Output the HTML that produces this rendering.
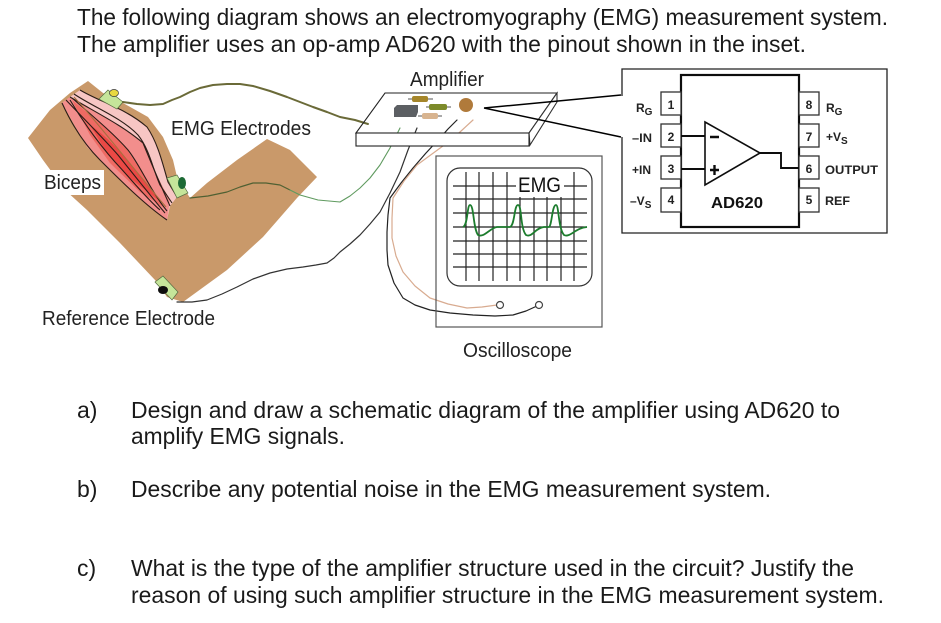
<!DOCTYPE html>
<html><head><meta charset="utf-8"><style>
html,body{margin:0;padding:0;background:#fff;width:941px;height:623px;overflow:hidden}
svg{display:block}
text{font-family:"Liberation Sans",sans-serif;fill:#111}
.q{font-size:23px;fill:#1a1a1a}
.l{font-size:20px;fill:#222}
.b{font-size:12px;font-weight:bold;fill:#222}
.n{font-size:12px;font-weight:bold;fill:#222;text-anchor:middle}
</style></head><body>
<svg width="941" height="623" viewBox="0 0 941 623" xmlns="http://www.w3.org/2000/svg">
<defs><filter id="bl" x="0" y="0" width="941" height="623" filterUnits="userSpaceOnUse"><feGaussianBlur stdDeviation="0.3"/></filter></defs>
<text class="q" x="77" y="25" textLength="811" lengthAdjust="spacingAndGlyphs">The following diagram shows an electromyography (EMG) measurement system.</text>
<text class="q" x="77" y="52" textLength="729" lengthAdjust="spacingAndGlyphs">The amplifier uses an op-amp AD620 with the pinout shown in the inset.</text>

<g filter="url(#bl)">
<!-- arm -->
<path d="M88,81 L103,93 L123,103 L148,117 L163,137 L173,160 L177,177 L190,198 L207,183 L237,160 L267,139 L290,150 L317,177 L297,198 L263,237 L227,270 L183,302 L167,297 L155,280 L120,243 L87,210 L65,190 L43,160 L28,138 L50,110 L70,93 Z" fill="#c9996b"/>
<!-- muscle -->
<path d="M80,90 C100,102 125,108 147,127 C158,143 163,165 168,182 L177,197 L170,206 L167,220 L145,203 L120,180 L100,160 L87,147 L62,103 L70,97 Z" fill="#f7c6c4"/>
<path d="M70,97 C95,112 122,125 143,143 C150,160 156,175 170,200 L167,220 L145,203 L120,180 L100,160 L87,147 L62,103 Z" fill="#f28e8c"/>
<path d="M72,100 C90,115 110,130 125,147 C138,165 150,185 163,207 L140,192 L110,163 L90,135 Z" fill="#ee6a64"/>
<path d="M90,125 C105,135 125,155 135,170 C145,180 152,190 158,200 L130,178 L108,155 Z" fill="#ea4a45"/>
<g fill="none" stroke="#2b1c16" stroke-width="1.100">
<path d="M80,90 C100,102 125,108 147,127 C158,143 163,165 168,182 L177,197"/>
<path d="M74,94 C95,108 122,118 138,135 C150,150 153,170 160,185 L172,203"/>
<path d="M70,97 C95,112 122,125 143,143 C150,160 156,175 170,206"/>
<path d="M72,98 C95,118 115,135 128,150 C140,165 150,190 167,211"/>
<path d="M66,100 C85,120 105,140 118,155 C130,170 150,195 165,213"/>
<path d="M62,103 C72,125 85,145 100,160 C120,180 145,205 167,220"/>
<path d="M70,100 C85,125 100,145 115,162 C130,178 148,200 160,210"/>
<path d="M74,97 C100,125 130,165 166,207" stroke="#a8703f"/>
</g>
<!-- electrodes -->
<path d="M108,90 L123,102 L117,109 L99,99 Z" fill="#c5e59a" stroke="#556b40" stroke-width=".7"/>
<ellipse cx="114" cy="93" rx="4.500" ry="3.500" fill="#e8d840" stroke="#333" stroke-width=".7"/>
<path d="M167,178 L177,175 L188,193 L177,198 Z" fill="#c5e59a" stroke="#556b40" stroke-width=".7"/>
<ellipse cx="182" cy="183" rx="4" ry="6" fill="#1f6b35"/>
<path d="M163,276 L178,292 L172,300 L155,282 Z" fill="#c5e59a" stroke="#556b40" stroke-width=".7"/>
<ellipse cx="163" cy="290" rx="5" ry="4" fill="#111"/>

<!-- wires -->
<g fill="none" stroke-linejoin="round" stroke-linecap="round">
<polyline points="123,102 137,104 150,105 163,104 172,100 180,97 190,92 200,88 213,85 227,84 240,84 253,86 270,91 287,97 300,102 313,107 327,112 340,117 355,120 368,124" stroke="#6b6a38" stroke-width="2"/>
<polyline points="190,198 208,196 227,192 240,187 253,183 266,183 280,185 290,190" stroke="#4f6032" stroke-width="1.200"/>
<polyline points="290,190 300,195 318,200 340,202 350,196 360,188 370,178 380,165 390,148 400,128" stroke="#5f9a5f" stroke-width="1.100"/>
<polyline points="177,302 192,302 207,300 222,294 237,287 253,279 270,273 287,269 303,267 316,265 327,263 334,258 340,252 350,244 360,235 370,224 380,212 390,193 400,172 408,150 417,128" stroke="#333" stroke-width="1.200"/>
<polyline points="457,120 448,129 440,138 426,153 413,168 401,183 390,198 388,215 387,232 387,250 388,265 394,283 403,298 415,305 430,310 450,313 473,315 495,316 513,315 526,311 537,306" stroke="#222" stroke-width="1.200"/>
<polyline points="473,120 460,132 447,143 432,154 417,165 404,181 393,198 392,218 392,238 396,256 403,272 415,286 430,298 448,304 467,308 482,307 497,305" stroke="#d8ab90" stroke-width="1.200"/>
</g>

<!-- board -->
<path d="M385,93 L557,93 L529,133 L356,133 Z" fill="none" stroke="#222" stroke-width="1.100"/>
<path d="M557,93 L557,102 L530,145 L529,133 Z" fill="#fff" stroke="#333" stroke-width="1.100"/>
<rect x="356" y="133" width="173" height="13" fill="#fff" stroke="#222" stroke-width="1.100"/>
<path d="M394,108 L397,105 L418,105 L418,112 L416,117 L394,117 Z" fill="#5c5f63"/>
<path d="M408,99 H433 M426,107 H451 M418,116 H442" stroke="#555" stroke-width="1"/>
<rect x="412" y="96" width="16" height="6" rx="2" fill="#a5862c"/>
<rect x="429" y="104" width="18" height="6" rx="2" fill="#7c8a2c"/>
<rect x="422" y="113" width="16" height="6" rx="2" fill="#d8b490"/>
<circle cx="466" cy="105" r="7" fill="#b07a3a"/>
<path d="M484,108 L621,95 M484,108 L621,137" stroke="#000" stroke-width="1.500" fill="none"/>

<!-- scope -->
<rect x="436" y="156" width="166" height="171" fill="none" stroke="#555" stroke-width="1.200"/>
<rect x="447" y="168" width="145" height="118" rx="13" fill="#fff" stroke="#333" stroke-width="1.200"/>
<g stroke="#222" stroke-width="1.200">
<path d="M466,172V281M479,172V281M493,172V281M507,172V281M520,172V281M534,172V281M547,172V281M561,172V281M574,172V281"/>
<path d="M453,186H587M453,199H587M453,213H587M453,227H587M453,241H587M453,254H587M453,267H587"/>
</g>
<rect x="516" y="170" width="48" height="27" fill="#fff"/>
<path d="M463,227 C468,225 467,205 470,205 C474,205 473,228 478,235 C484,238 490,228 497,227 H510 C515,225 514,205 518,205 C522,205 520,228 526,235 C532,238 535,228 544,227 H549 C552,225 552,205 556,205 C559,205 558,228 564,235 C570,238 575,228 587,227" fill="none" stroke="#1f7d2e" stroke-width="1.800"/>
<circle cx="500" cy="305" r="3.500" fill="#fff" stroke="#444" stroke-width="1.200"/>
<circle cx="539" cy="305" r="3.500" fill="#fff" stroke="#444" stroke-width="1.200"/>

<!-- inset -->
<path d="M622,96 V69 H887 V233 H622 V137" fill="none" stroke="#222" stroke-width="1.300"/>
<rect x="681" y="75" width="118" height="152" fill="#fff" stroke="#111" stroke-width="2.200"/>
<g fill="#fff" stroke="#333" stroke-width="1.300">
<rect x="661" y="92" width="20" height="23"/><rect x="661" y="124" width="20" height="23"/><rect x="661" y="156" width="20" height="23"/><rect x="661" y="188" width="20" height="24"/>
<rect x="799" y="92" width="20" height="23"/><rect x="799" y="124" width="20" height="23"/><rect x="799" y="156" width="20" height="23"/><rect x="799" y="188" width="20" height="24"/>
</g>
<path d="M705,122 L760,153 L705,185 Z" fill="#fff" stroke="#111" stroke-width="1.600"/>
<path d="M681,136 H705 M681,169 H705 M760,153 H781 V168 H799" fill="none" stroke="#111" stroke-width="1.900"/>
<path d="M710,137 H719 M710,170 H719 M714.500,165 V175" stroke="#111" stroke-width="2.400" fill="none"/>
</g>

<text class="n" x="671" y="109">1</text><text class="n" x="671" y="141">2</text><text class="n" x="671" y="173">3</text><text class="n" x="671" y="204">4</text>
<text class="n" x="809" y="109">8</text><text class="n" x="809" y="141">7</text><text class="n" x="809" y="173">6</text><text class="n" x="809" y="204">5</text>
<text x="711" y="208" style="font-size:16px;font-weight:bold" fill="#222" textLength="52" lengthAdjust="spacingAndGlyphs">AD620</text>
<text class="b" x="636" y="112">R<tspan dy="3" style="font-size:10px">G</tspan></text>
<text class="b" x="632" y="142" textLength="20" lengthAdjust="spacingAndGlyphs">–IN</text>
<text class="b" x="632" y="174">+IN</text>
<text class="b" x="630" y="205">–V<tspan dy="3" style="font-size:10px">S</tspan></text>
<text class="b" x="826" y="112">R<tspan dy="3" style="font-size:10px">G</tspan></text>
<text class="b" x="826" y="141">+V<tspan dy="3" style="font-size:10px">S</tspan></text>
<text class="b" x="825" y="174" textLength="53" lengthAdjust="spacingAndGlyphs">OUTPUT</text>
<text class="b" x="825" y="205" textLength="25" lengthAdjust="spacingAndGlyphs">REF</text>

<!-- labels -->
<text x="518" y="192" style="font-size:21px" fill="#222" textLength="43" lengthAdjust="spacingAndGlyphs">EMG</text>
<rect x="42" y="170" width="62" height="25" fill="#fff"/>
<text class="l" x="44" y="189" textLength="57" lengthAdjust="spacingAndGlyphs">Biceps</text>
<text class="l" x="171" y="135" textLength="140" lengthAdjust="spacingAndGlyphs">EMG Electrodes</text>
<text class="l" x="42" y="325" textLength="173" lengthAdjust="spacingAndGlyphs">Reference Electrode</text>
<text class="l" x="410" y="86" textLength="74" lengthAdjust="spacingAndGlyphs">Amplifier</text>
<text class="l" x="463" y="357" textLength="109" lengthAdjust="spacingAndGlyphs">Oscilloscope</text>

<!-- questions -->
<text class="q" x="77" y="418">a)</text>
<text class="q" x="131" y="418" textLength="709" lengthAdjust="spacingAndGlyphs">Design and draw a schematic diagram of the amplifier using AD620 to</text>
<text class="q" x="131" y="444" textLength="214" lengthAdjust="spacingAndGlyphs">amplify EMG signals.</text>
<text class="q" x="77" y="497">b)</text>
<text class="q" x="131" y="497" textLength="640" lengthAdjust="spacingAndGlyphs">Describe any potential noise in the EMG measurement system.</text>
<text class="q" x="77" y="576">c)</text>
<text class="q" x="131" y="576" textLength="723" lengthAdjust="spacingAndGlyphs">What is the type of the amplifier structure used in the circuit? Justify the</text>
<text class="q" x="131" y="603" textLength="753" lengthAdjust="spacingAndGlyphs">reason of using such amplifier structure in the EMG measurement system.</text>
</svg>
</body></html>
